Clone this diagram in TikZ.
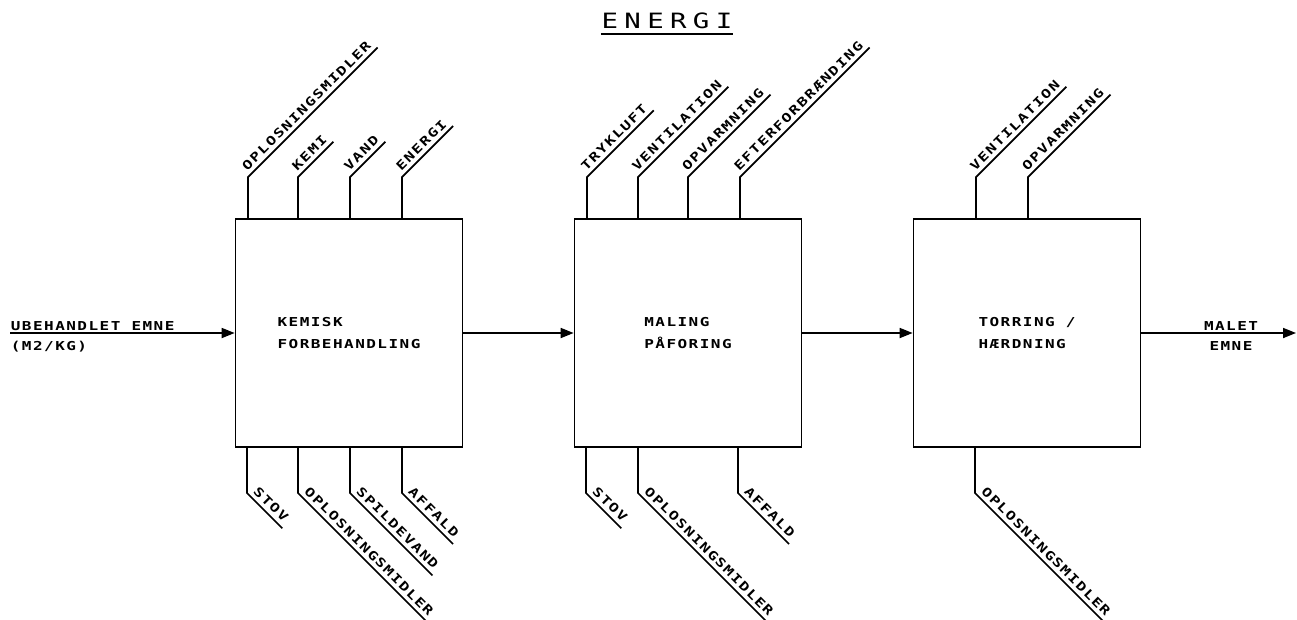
\documentclass[tikz,border=0pt]{standalone}
\usepackage{fontspec}
\newfontfamily\plotfont[FakeStretch=1.3,LetterSpace=12]{DejaVu Sans Mono}
\newfontfamily\plottitle[FakeStretch=1.3,LetterSpace=30]{DejaVu Sans Mono}
\usetikzlibrary{arrows.meta}

\begin{document}
\begin{tikzpicture}[x=0.02cm, y=-0.02cm, line width=1pt,
  every node/.style={font=\plotfont\bfseries\fontsize{7}{12.5}\selectfont, inner sep=0pt},
  procbox/.style={draw, minimum width=4.54cm, minimum height=4.56cm, align=left},
  uplabel/.style={rotate=45, anchor=south west, inner xsep=1.5pt, inner ysep=2pt},
  downlabel/.style={rotate=-45, anchor=south west, inner xsep=1.5pt, inner ysep=2pt},
  flow/.style={-{Triangle[length=0.26cm,width=0.2cm]}}]
\useasboundingbox (0,0) rectangle (1297,619);

% title
\node[font=\plottitle\fontsize{12}{14}\selectfont, anchor=base] (titel) at (667,28) {ENERGI};
\draw ([yshift=-2.8pt]titel.south west) -- ([yshift=-2.8pt]titel.south east);

% process boxes
\node[procbox] (kemisk) at (349,333) {KEMISK\\FORBEHANDLING};
\node[procbox] (maling) at (688,333) {MALING\\PÅFORING};
\node[procbox] (torring) at (1027,333) {TORRING /\\HÆRDNING};

% main flow
\coordinate (ind) at (10,333);
\coordinate (ud) at (1296,333);
\draw[flow] (ind) -- (kemisk.west);
\draw[flow] (kemisk.east) -- (maling.west);
\draw[flow] (maling.east) -- (torring.west);
\draw[flow] (torring.east) -- (ud);
\node[anchor=base west] (ubeh) at (10,330) {UBEHANDLET EMNE};
\node[anchor=base west] (enhed) at (10,350) {(M2/KG)};
\node[anchor=base] (malet) at (1231,330) {MALET};
\node[anchor=base] (emne) at (1231,350) {EMNE};

% inputs, chemical pretreatment
\node[uplabel] (kemiA) at (248,177) {OPLOSNINGSMIDLER};
\draw (kemisk.north -| kemiA.south west) -- (kemiA.south west) -- (kemiA.south east);
\node[uplabel] (kemiB) at (298,177) {KEMI};
\draw (kemisk.north -| kemiB.south west) -- (kemiB.south west) -- (kemiB.south east);
\node[uplabel] (kemiC) at (350,177) {VAND};
\draw (kemisk.north -| kemiC.south west) -- (kemiC.south west) -- (kemiC.south east);
\node[uplabel] (kemiD) at (402,177) {ENERGI};
\draw (kemisk.north -| kemiD.south west) -- (kemiD.south west) -- (kemiD.south east);
% outputs, chemical pretreatment
\node[downlabel] (kemiE) at (247,493) {STOV};
\draw (kemisk.south -| kemiE.south west) -- (kemiE.south west) -- (kemiE.south east);
\node[downlabel] (kemiF) at (298,493) {OPLOSNINGSMIDLER};
\draw (kemisk.south -| kemiF.south west) -- (kemiF.south west) -- (kemiF.south east);
\node[downlabel] (kemiG) at (350,493) {SPILDEVAND};
\draw (kemisk.south -| kemiG.south west) -- (kemiG.south west) -- (kemiG.south east);
\node[downlabel] (kemiH) at (402,493) {AFFALD};
\draw (kemisk.south -| kemiH.south west) -- (kemiH.south west) -- (kemiH.south east);

% inputs, painting
\node[uplabel] (malA) at (587,177) {TRYKLUFT};
\draw (maling.north -| malA.south west) -- (malA.south west) -- (malA.south east);
\node[uplabel] (malB) at (638,177) {VENTILATION};
\draw (maling.north -| malB.south west) -- (malB.south west) -- (malB.south east);
\node[uplabel] (malC) at (688,177) {OPVARMNING};
\draw (maling.north -| malC.south west) -- (malC.south west) -- (malC.south east);
\node[uplabel] (malD) at (740,177) {EFTERFORBRÆNDING};
\draw (maling.north -| malD.south west) -- (malD.south west) -- (malD.south east);
% outputs, painting
\node[downlabel] (malE) at (586,493) {STOV};
\draw (maling.south -| malE.south west) -- (malE.south west) -- (malE.south east);
\node[downlabel] (malF) at (638,493) {OPLOSNINGSMIDLER};
\draw (maling.south -| malF.south west) -- (malF.south west) -- (malF.south east);
\node[downlabel] (malG) at (738,493) {AFFALD};
\draw (maling.south -| malG.south west) -- (malG.south west) -- (malG.south east);

% drying / curing
\node[uplabel] (torA) at (976,177) {VENTILATION};
\draw (torring.north -| torA.south west) -- (torA.south west) -- (torA.south east);
\node[uplabel] (torB) at (1028,177) {OPVARMNING};
\draw (torring.north -| torB.south west) -- (torB.south west) -- (torB.south east);
\node[downlabel] (torC) at (975,493) {OPLOSNINGSMIDLER};
\draw (torring.south -| torC.south west) -- (torC.south west) -- (torC.south east);
\end{tikzpicture}
\end{document}
